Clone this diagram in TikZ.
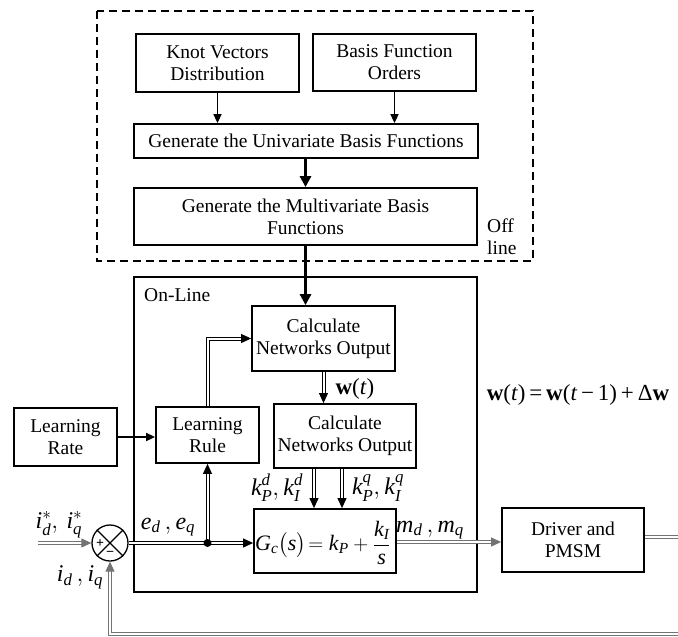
\documentclass[tikz,border=0pt]{standalone}
\usepackage{amsmath}
\usepackage{fontspec}
\setmainfont{Liberation Serif}
\usetikzlibrary{arrows.meta}
\newcommand{\vi}[1]{\textit{#1}}
\begin{document}
\begin{tikzpicture}[x=1pt,y=-1pt,
  every node/.style={font=\fontsize{19.5}{22}\selectfont},
  blk/.style={draw, line width=1.8pt, inner sep=0pt, align=center},
  thinarr/.style={line width=1.6pt, -{Triangle[length=9pt,width=8pt]}},
  thickarr/.style={line width=3pt, -{Triangle[length=11pt,width=11pt]}},
  dbl/.style={double, double distance=2pt, line width=1pt, -{Triangle[length=10pt,width=9pt]}},
  dblg/.style={dbl, draw=black!55},
  lbl/.style={inner sep=0pt},
  mlbl/.style={inner sep=0pt, font=\fontsize{24}{26}\selectfont}
]
\useasboundingbox (0,0) rectangle (678,637);

% off-line part
\draw[line width=1.8pt, dash pattern=on 8pt off 5pt] (97,11) rectangle (533,261);
\node[blk, minimum width=163pt, minimum height=58pt] (knot) at (217.5,63) {Knot Vectors\\Distribution};
\node[blk, minimum width=163pt, minimum height=57pt] (basis) at (394.5,62.5) {Basis Function\\Orders};
\node[blk, minimum width=344pt, minimum height=34pt] (uni) at (306,141) {Generate the Univariate Basis Functions};
\node[blk, minimum width=343pt, minimum height=57pt] (multi) at (305.5,216.5) {Generate the Multivariate Basis\\Functions};
\node[lbl, anchor=west, align=left] (offl) at (487,237) {Off\\line};

% on-line part
\draw[line width=1.8pt] (134,277) rectangle (477,592);
\node[lbl, anchor=west] (onl) at (144,295) {On-Line};
\node[blk, minimum width=143pt, minimum height=65pt] (calc1) at (323.5,338.5) {Calculate\\Networks Output};
\node[blk, minimum width=142pt, minimum height=64pt] (calc2) at (345,436) {Calculate\\Networks Output};
\node[blk, minimum width=103pt, minimum height=56pt] (lrule) at (207.5,435) {Learning\\Rule};
\node[blk, minimum width=103pt, minimum height=58pt] (lrate) at (65.5,437) {Learning\\Rate};
\node[blk, minimum width=142pt, minimum height=64pt] (gc) at (325,541) {};
\node[lbl, anchor=west, font=\fontsize{22}{24}\selectfont] (gcf) at (255,543)
  {$\vi{G}_{\vi{c}}\bigl(\vi{s}\bigr)\!=\vi{k}_{\vi{P}}+\dfrac{\vi{k}_{\vi{I}}}{\vi{s}}$};
\node[blk, minimum width=142pt, minimum height=64pt] (driver) at (573,540) {Driver and\\PMSM};

% summing junction
\node[draw, circle, line width=1.3pt, minimum size=36pt, inner sep=0pt] (sum) at (110,543) {};
\draw[line width=1.3pt] (sum.north west) -- (sum.south east) (sum.north east) -- (sum.south west);
\node[lbl, font=\fontsize{14}{14}\selectfont\bfseries] (plus) at (100,544) {+};
\node[lbl, font=\fontsize{14}{14}\selectfont\bfseries] (minus) at (110,554) {−};
\coordinate (dot) at (207.5,543);

\coordinate (inp) at (38,543);
\coordinate (outr) at (678,537);
\coordinate (fbr) at (678,634);

% connectors
\draw[thinarr] (knot.south) -- (knot.south |- uni.north);
\draw[thinarr] (basis.south) -- (basis.south |- uni.north);
\draw[thickarr] (uni.south -| multi.north) -- (multi.north);
\draw[thickarr] (multi.south) -- (multi.south |- calc1.north);
\draw[dbl] (lrule.north) |- (calc1.west);
\draw[dbl] (calc1.south) -- (calc1.south |- calc2.north);
\draw[thinarr] (lrate.east) -- (lrate.east -| lrule.west);
\draw[dbl] ([xshift=-31pt]calc2.south) -- ([xshift=-31pt]calc2.south |- gc.north);
\draw[dbl] ([xshift=-3pt]calc2.south) -- ([xshift=-3pt]calc2.south |- gc.north);
\draw[dblg] (inp) -- (sum.west);
\draw[dbl] (sum.east) -- (sum.east -| gc.west);
\draw[dbl] (dot) -- (dot |- lrule.south);
\draw[dblg] (gc.east |- 0,542) -- (driver.west |- 0,542);
\draw[dblg, -] (driver.east |- outr) -- (outr);
\draw[dblg] (fbr) -- (sum |- fbr) -- (sum.south);
\fill (dot) circle (4pt);

% labels
\node[lbl, font=\fontsize{23}{24}\selectfont] (wlab) at (355,389) {\textbf{w}(\vi{t})};
\node[lbl, font=\fontsize{23}{24}\selectfont] (wform) at (578,395) {\textbf{w}(\vi{t})\,=\,\textbf{w}(\vi{t}\,−\,1)\,+\,Δ\textbf{w}};
\node[mlbl] (istar) at (59,525) {$\vi{i}_{\vi{d}}^{*},\,\vi{i}_{\vi{q}}^{*}$};
\node[mlbl] (iact) at (80,577) {$\vi{i}_{\vi{d}}\,,\vi{i}_{\vi{q}}$};
\node[mlbl] (elab) at (168,527) {$\vi{e}_{\vi{d}}\,,\vi{e}_{\vi{q}}$};
\node[mlbl] (kd) at (277,488) {$\vi{k}_{\vi{P}}^{\vi{d}},\vi{k}_{\vi{I}}^{\vi{d}}$};
\node[mlbl] (kq) at (378,488) {$\vi{k}_{\vi{P}}^{\vi{q}},\vi{k}_{\vi{I}}^{\vi{q}}$};
\node[mlbl] (mlab) at (430,530) {$\vi{m}_{\vi{d}}\,,\vi{m}_{\vi{q}}$};
\end{tikzpicture}
\end{document}
